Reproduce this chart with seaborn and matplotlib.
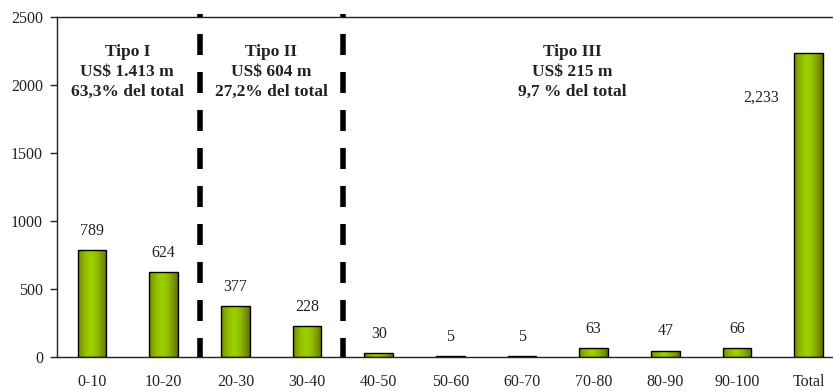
import numpy as np
import pandas as pd
import matplotlib
matplotlib.use("Agg")
import matplotlib.pyplot as plt
import seaborn as sns

categories = ["0-10", "10-20", "20-30", "30-40", "40-50", "50-60", "60-70",
              "70-80", "80-90", "90-100", "Total"]
values = [789, 624, 377, 228, 30, 5, 5, 63, 47, 66, 2233]
value_labels = ["789", "624", "377", "228", "30", "5", "5", "63", "47", "66", "2,233"]
group_texts = ["Tipo I\nUS$ 1.413 m\n63,3% del total",
               "Tipo II\nUS$ 604 m\n27,2% del total",
               "Tipo III\nUS$ 215 m\n9,7 % del total"]
yticks = [0, 500, 1000, 1500, 2000, 2500]

sns.set_theme(style="white")
plt.rcParams["font.family"] = ["Liberation Serif", "DejaVu Serif"]

df = pd.DataFrame({"cat": categories, "val": values})

fig = plt.figure(figsize=(8.33, 3.92), dpi=100)
ax = fig.add_axes([57 / 833, 1 - 357 / 392, 1 - 57 / 833, 340 / 392])

sns.barplot(data=df, x="cat", y="val", ax=ax, width=0.4, color="#99cc00",
            edgecolor="black", linewidth=1.0, saturation=1)

# gradient fill
dark = np.array([100, 110, 0]) / 255
bright = np.array([155, 208, 0]) / 255
t = np.linspace(0, 1, 64)
w = 1 - np.abs(2 * (t - 0.45) / 1.1) ** 1.6
w = np.clip(w, 0, 1)
grad = dark[None, :] + (bright - dark)[None, :] * w[:, None]
grad = grad[None, :, :]
for p in list(ax.patches):
    x0, y0 = p.get_x(), p.get_y()
    pw, ph = p.get_width(), p.get_height()
    im = ax.imshow(grad, extent=[x0, x0 + pw, y0, y0 + ph], aspect="auto",
                   zorder=2, interpolation="bilinear")
    im.set_clip_path(p)
    p.set_facecolor("none")
    p.set_zorder(3)

ax.set_xlim(-0.49, 10.34)
ax.set_ylim(0, 2500)
ax.set_yticks(yticks)
ax.set_yticklabels([str(v) for v in yticks], fontsize=11.5, color="#222222")
ax.tick_params(axis="y", direction="out", length=5, width=1, colors="#222222",
               left=True, pad=5)
ax.tick_params(axis="x", length=0, pad=12, labelsize=11.5, colors="#222222")
ax.set_xlabel("")
ax.set_ylabel("")
for s in ["left", "bottom", "top"]:
    ax.spines[s].set_color("#222222")
    ax.spines[s].set_linewidth(1.0)
ax.spines["right"].set_visible(False)

# value labels
for i, (v, lab) in enumerate(zip(values, value_labels)):
    if lab == "2,233":
        ax.text(i - 0.67, 1910, lab, ha="center", va="center", fontsize=11.5,
                color="#222222")
    else:
        ax.annotate(lab, (i, v), xytext=(0, 8), textcoords="offset points",
                    ha="center", va="bottom", fontsize=11.5, color="#222222")

# dashed separators
lw = 4.0
px = 72 / 100
on, off = 21 * px / lw, 17 * px / lw
for xs in [1.5, 3.5]:
    ax.plot([xs, xs], [2522, 0], color="black", lw=lw,
            ls=(18 * px / lw, (on, off)),
            solid_capstyle="butt", dash_capstyle="butt", zorder=4, clip_on=False)

# group annotations
for xpos, txt in zip([0.49, 2.5, 6.7], group_texts):
    ax.text(xpos, 2300, txt, ha="center", va="top", fontsize=12.5,
            fontweight="bold", color="#222222", linespacing=1.3)

fig.savefig("out.png", dpi=100)
